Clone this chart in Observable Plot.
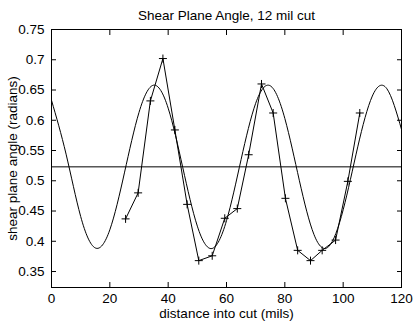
<!DOCTYPE html>
<html><head><meta charset="utf-8">
<script src="https://cdn.jsdelivr.net/npm/d3@7"></script>
<script src="https://cdn.jsdelivr.net/npm/@observablehq/plot@0.6"></script>
<style>body{margin:0;background:#fff}</style>
</head><body><div id="chart"></div>
<script>
const titleText = "Shear Plane Angle, 12 mil cut";
const xLabel = "distance into cut (mils)";
const yLabel = "shear plane angle (radians)";
const xTicks = [0, 20, 40, 60, 80, 100, 120];
const yTicks = [0.35, 0.4, 0.45, 0.5, 0.55, 0.6, 0.65, 0.7, 0.75];
const yTickLabels = ["0.35", "0.4", "0.45", "0.5", "0.55", "0.6", "0.65", "0.7", "0.75"];

// smooth fitted curve
const fitX = [0, 5, 10, 15, 20, 25, 30, 35, 40, 45, 50, 55, 60, 65, 70, 75, 80, 85, 90, 95, 100, 105, 110, 115, 120];
const fitY = [0.633, 0.544, 0.441, 0.389, 0.419, 0.513, 0.613, 0.658, 0.620, 0.522, 0.425, 0.388, 0.434, 0.535, 0.628, 0.657, 0.603, 0.500, 0.411, 0.391, 0.452, 0.556, 0.640, 0.652, 0.585];

// mean level
const meanAngle = 0.523;

// measured points (+ markers)
const measX = [25.4, 29.7, 33.9, 38.2, 42.3, 46.5, 50.5, 55.1, 59.4, 63.7, 67.6, 72.0, 76.0, 80.2, 84.4, 88.8, 92.8, 97.4, 101.6, 105.7];
const measY = [0.437, 0.480, 0.632, 0.702, 0.584, 0.461, 0.368, 0.376, 0.438, 0.454, 0.543, 0.660, 0.612, 0.471, 0.385, 0.368, 0.385, 0.402, 0.499, 0.612];

const fit = fitX.map((x, i) => ({x, y: fitY[i]}));
const meas = measX.map((x, i) => ({x, y: measY[i]}));

const plusSymbol = {
  draw(context, size) {
    const r = Math.sqrt(size / Math.PI);
    context.moveTo(-r, 0); context.lineTo(r, 0);
    context.moveTo(0, -r); context.lineTo(0, r);
  }
};

const blank = () => "";

const chart = Plot.plot({
  width: 417,
  height: 325,
  marginLeft: 51,
  marginRight: 16,
  marginTop: 29,
  marginBottom: 38,
  style: {fontFamily: "'Liberation Sans', Arial, Helvetica, sans-serif", fontSize: "13px", background: "white", color: "black"},
  x: {domain: [0, 120]},
  y: {domain: [0.3236, 0.75]},
  marks: [
    Plot.line(fit, {x: "x", y: "y", stroke: "black", strokeWidth: 1, curve: "natural", clip: true}),
    Plot.ruleY([meanAngle], {stroke: "black", strokeWidth: 1}),
    Plot.line(meas, {x: "x", y: "y", stroke: "black", strokeWidth: 1}),
    Plot.dot(meas, {x: "x", y: "y", symbol: plusSymbol, r: 4, stroke: "black", fill: "none", strokeWidth: 1}),
    Plot.frame({stroke: "black"}),
    Plot.axisX(xTicks, {anchor: "bottom", tickSize: 0, tickPadding: 6, fontSize: 13.5, label: null}),
    Plot.axisX(xTicks, {anchor: "bottom", tickSize: -5, tickFormat: blank, label: null}),
    Plot.axisX(xTicks, {anchor: "top", tickSize: -5, tickFormat: blank, label: null}),
    Plot.axisY(yTicks, {anchor: "left", tickSize: 0, tickPadding: 7, fontSize: 13.5, label: null, tickFormat: (d, i) => yTickLabels[i]}),
    Plot.axisY(yTicks, {anchor: "left", tickSize: -5, tickFormat: blank, label: null}),
    Plot.axisY(yTicks, {anchor: "right", tickSize: -5, tickFormat: blank, label: null}),
    Plot.text([titleText], {frameAnchor: "top", lineAnchor: "middle", dy: -14, fontSize: 13.5}),
    Plot.text([xLabel], {frameAnchor: "bottom", lineAnchor: "middle", dy: 26, fontSize: 13.5}),
    Plot.text([yLabel], {frameAnchor: "left", lineAnchor: "middle", textAnchor: "middle", dx: -38.5, rotate: -90, fontSize: 13.5})
  ]
});
document.getElementById("chart").append(chart);
</script>
</body></html>
